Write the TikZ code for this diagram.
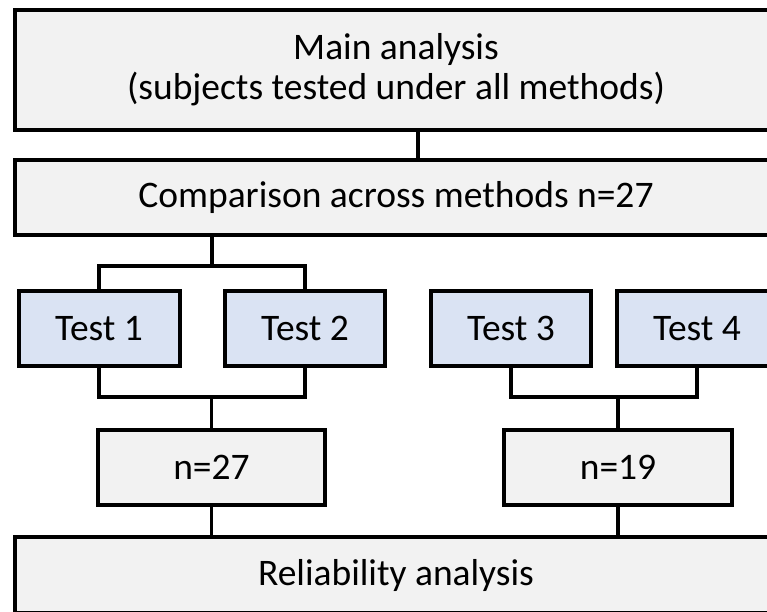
\documentclass[tikz,border=0pt]{standalone}
\usepackage{fontspec}
\setmainfont{Carlito}
\definecolor{boxgray}{HTML}{F2F2F2}
\definecolor{boxblue}{HTML}{DAE3F3}
\begin{document}
\begin{tikzpicture}[x=1pt,y=-1pt,
  base/.style={draw=black, line width=4pt, rectangle, inner sep=0pt, outer sep=0pt,
    font=\fontsize{37.5}{40}\selectfont, align=center},
  graybox/.style={base, fill=boxgray},
  bluebox/.style={base, fill=boxblue},
  link/.style={draw=black, line width=3.2pt}]
\useasboundingbox (0,0) rectangle (767,611);
\clip (0,0) rectangle (767,611);
% boxes
\node[graybox, minimum width=762pt, minimum height=120pt] (main) at (396,70) {Main analysis\\(subjects tested under all methods)};
\node[graybox, minimum width=762pt, minimum height=75pt] (comp) at (396,197.5) {Comparison across methods n=27};
\node[bluebox, minimum width=161pt, minimum height=75pt] (t1) at (99,328.5) {Test 1};
\node[bluebox, minimum width=160pt, minimum height=75pt] (t2) at (305,328.5) {Test 2};
\node[bluebox, minimum width=160pt, minimum height=75pt] (t3) at (511,328.5) {Test 3};
\node[bluebox, minimum width=160pt, minimum height=75pt] (t4) at (697,328.5) {Test 4};
\node[graybox, minimum width=227pt, minimum height=75pt] (n27) at (211.5,467.5) {n=27};
\node[graybox, minimum width=228pt, minimum height=75pt] (n19) at (618,467.5) {n=19};
\node[graybox, minimum width=762pt, minimum height=76pt] (rel) at (396,575) {Reliability analysis};
% junction coordinates
\coordinate (c1) at (418,0);
\coordinate (bar) at (212,266);
\coordinate (b1) at (211.5,397);
\coordinate (b2) at (618,397);
% connectors
\draw[link] (main.south -| c1) -- (comp.north -| c1);
\draw[link] (comp.south -| bar) -- (bar);
\draw[link] (t1.north) |- (bar) -| (t2.north);
\draw[link] (t1.south) |- (b1) -| (t2.south);
\draw[link] (b1) -- (n27.north);
\draw[link] (t3.south) |- (b2) -| (t4.south);
\draw[link] (b2) -- (n19.north);
\draw[link] (n27.south) -- (n27.south |- rel.north);
\draw[link] (n19.south) -- (n19.south |- rel.north);
\end{tikzpicture}
\end{document}
